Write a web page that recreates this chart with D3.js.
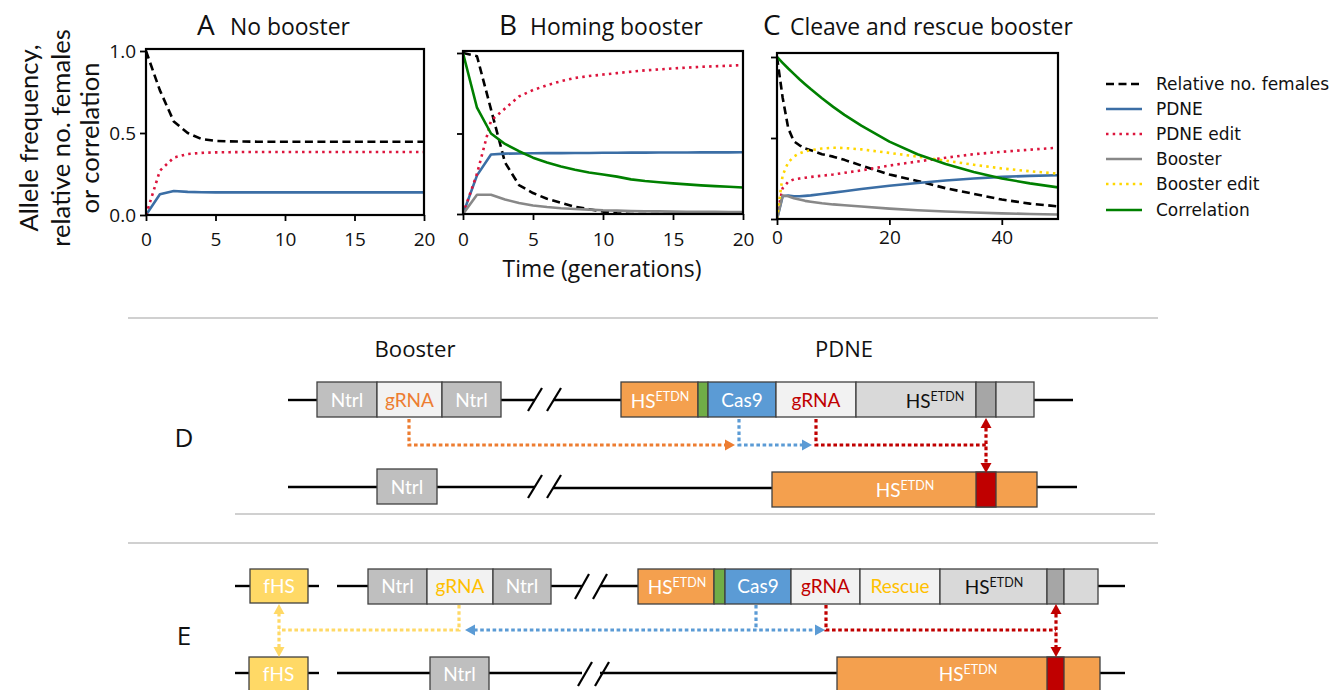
<!DOCTYPE html>
<html><head><meta charset="utf-8">
<script src="https://cdn.jsdelivr.net/npm/d3@7"></script>
<style>body{margin:0;background:#fff}svg{display:block}</style>
</head><body>
<svg id="fig" width="1335" height="690"></svg>
<script>
// ---------------- DATA ----------------
const gensAB = [0,1,2,3,4,5,6,7,8,9,10,11,12,13,14,15,16,17,18,19,20];
const gensC  = [0,1,2,3,4,5,6,8,10,12,15,20,25,30,35,40,45,50];

const A_females  = [1.0,0.76,0.57,0.50,0.463,0.452,0.449,0.448,0.447,0.447,0.447,0.447,0.447,0.447,0.447,0.447,0.447,0.447,0.447,0.447,0.447];
const A_pdne     = [0,0.126,0.146,0.141,0.139,0.138,0.138,0.138,0.138,0.138,0.138,0.138,0.138,0.138,0.138,0.138,0.138,0.138,0.138,0.138,0.138];
const A_pdneEdit = [0,0.27,0.35,0.372,0.379,0.382,0.383,0.384,0.384,0.384,0.384,0.384,0.384,0.384,0.384,0.384,0.384,0.384,0.384,0.384,0.384];

const B_females  = [1.0,0.98,0.65,0.32,0.18,0.13,0.095,0.07,0.045,0.03,0.015,0.005,0,0,0,0,0,0,0,0,0];
const B_pdne     = [0,0.24,0.37,0.375,0.376,0.377,0.378,0.378,0.379,0.379,0.38,0.38,0.381,0.381,0.382,0.382,0.382,0.383,0.383,0.383,0.384];
const B_pdneEdit = [0,0.25,0.58,0.655,0.73,0.77,0.80,0.825,0.845,0.857,0.866,0.875,0.884,0.892,0.898,0.904,0.909,0.914,0.918,0.921,0.925];
const B_booster  = [0,0.12,0.12,0.09,0.068,0.053,0.043,0.036,0.031,0.027,0.023,0.021,0.019,0.017,0.016,0.015,0.014,0.013,0.013,0.012,0.012];
const B_corr     = [1.0,0.66,0.50,0.435,0.39,0.35,0.32,0.295,0.275,0.258,0.245,0.232,0.215,0.205,0.197,0.19,0.184,0.178,0.173,0.169,0.165];

const C_females    = [1.0,0.75,0.56,0.48,0.455,0.435,0.425,0.40,0.385,0.365,0.33,0.275,0.235,0.19,0.155,0.12,0.095,0.078];
const C_pdne       = [0,0.14,0.145,0.14,0.14,0.143,0.146,0.154,0.163,0.171,0.185,0.205,0.222,0.238,0.25,0.26,0.266,0.27];
const C_pdneEdit   = [0.02,0.19,0.23,0.245,0.25,0.255,0.26,0.267,0.275,0.285,0.30,0.33,0.355,0.378,0.40,0.415,0.428,0.44];
const C_booster    = [0,0.145,0.14,0.128,0.12,0.112,0.107,0.097,0.09,0.085,0.077,0.064,0.054,0.046,0.04,0.035,0.031,0.028];
const C_boosterEdit= [0,0.27,0.35,0.385,0.405,0.418,0.425,0.435,0.44,0.438,0.43,0.408,0.385,0.36,0.335,0.312,0.295,0.28];
const C_corr       = [1.0,0.964,0.929,0.896,0.863,0.832,0.802,0.745,0.692,0.643,0.576,0.478,0.40,0.34,0.29,0.25,0.22,0.195];

const yTicks = [0, 0.5, 1.0];
const xTicksAB = [0,5,10,15,20];
const xTicksC = [0,20,40];
const seriesKeys  = ["females","pdne","pdneEdit","booster","boosterEdit","corr"];
const seriesNames = ["Relative no. females","PDNE","PDNE edit","Booster","Booster edit","Correlation"];

// ---------------- STYLE / LAYOUT ----------------
const FT = "'Open Sans', sans-serif";
const FL = "'DejaVu Sans', sans-serif";
const FD = "Lato, sans-serif";
const sty = {
  females:{c:"#000000", d:"8,4.5"},
  pdne:{c:"#3b6ea5", d:null},
  pdneEdit:{c:"#dc143c", d:"2.5,4.2"},
  booster:{c:"#888888", d:null},
  boosterEdit:{c:"#ffd700", d:"2.5,4.2"},
  corr:{c:"#008000", d:null}
};
const panels = [
  {L:"A", T:"No booster", tw:120, lx:197, tx:230, x0:146, x1:424, yb:215, yt:51, top:49, xmax:20, xt:xTicksAB, ylab:true, gens:gensAB, tlY:246,
   s:{females:A_females, pdne:A_pdne, pdneEdit:A_pdneEdit}},
  {L:"B", T:"Homing booster", tw:173, lx:499, tx:530, x0:463, x1:743, yb:214, yt:53, top:51, xmax:20, xt:xTicksAB, ylab:false, gens:gensAB, tlY:246,
   s:{females:B_females, pdne:B_pdne, pdneEdit:B_pdneEdit, booster:B_booster, corr:B_corr}},
  {L:"C", T:"Cleave and rescue booster", tw:283, lx:763, tx:790, x0:777, x1:1058, yb:219, yt:57, top:53, xmax:50, xt:xTicksC, ylab:false, gens:gensC, tlY:244,
   s:{females:C_females, pdne:C_pdne, pdneEdit:C_pdneEdit, booster:C_booster, boosterEdit:C_boosterEdit, corr:C_corr}}
];

function fit(sel, target){
  const len = sel.node().getComputedTextLength();
  const fs = +sel.attr("font-size");
  if(len>0) sel.attr("font-size", (fs*target/len).toFixed(2));
  return sel;
}

const svg = d3.select("#fig");

panels.forEach(p => {
  const g = svg.append("g");
  const x = d3.scaleLinear().domain([0,p.xmax]).range([p.x0,p.x1]);
  const y = d3.scaleLinear().domain([0,1]).range([p.yb,p.yt]);
  g.append("text").attr("x",p.lx).attr("y",35).attr("font-family",FT).attr("font-size",28).attr("fill","#111").text(p.L);
  fit(g.append("text").attr("x",p.tx).attr("y",35).attr("font-family",FT).attr("font-size",22).attr("fill","#111").text(p.T), p.tw);
  const clipId = "clip"+p.L;
  g.append("clipPath").attr("id",clipId).append("rect").attr("x",p.x0).attr("y",p.top).attr("width",p.x1-p.x0).attr("height",p.yb-p.top);
  const lg = g.append("g").attr("clip-path",`url(#${clipId})`);
  seriesKeys.forEach(k => {
    if(!p.s[k]) return;
    const line = d3.line().x((d,i)=>x(p.gens[i])).y(d=>y(d));
    lg.append("path").attr("d",line(p.s[k])).attr("fill","none").attr("stroke",sty[k].c)
      .attr("stroke-width",2.6).attr("stroke-dasharray",sty[k].d).attr("stroke-linejoin","round");
  });
  g.append("rect").attr("x",p.x0).attr("y",p.top).attr("width",p.x1-p.x0).attr("height",p.yb-p.top)
    .attr("fill","none").attr("stroke","#000").attr("stroke-width",2.2);
  const ax = d3.axisBottom(x).tickValues(p.xt).tickSize(6).tickPadding(7).tickFormat(d3.format("d"));
  const gx = g.append("g").attr("transform",`translate(0,${p.yb})`).call(ax);
  gx.select(".domain").remove();
  gx.selectAll("line").attr("stroke","#000").attr("stroke-width",1.8);
  gx.selectAll("text").attr("font-family",FT).attr("font-size",19).attr("fill","#111").attr("dy",null).attr("y",p.tlY-p.yb);
  const ay = d3.axisLeft(y).tickValues(yTicks).tickSize(6).tickPadding(4).tickFormat(p.ylab ? d3.format(".1f") : "");
  const gy = g.append("g").attr("transform",`translate(${p.x0},0)`).call(ay);
  gy.select(".domain").remove();
  gy.selectAll("line").attr("stroke","#000").attr("stroke-width",1.8);
  gy.selectAll("text").attr("font-family",FT).attr("font-size",19).attr("fill","#111").attr("dy","0.36em");
});

// y label: one common font size for all three lines
const ylines = ["Allele frequency,","relative no. females","or correlation"];
const ylx = [38, 70, 99];
const ylw = [205, 204, 147];
const ysel = ylines.map((t,i)=> svg.append("text").attr("transform",`translate(${ylx[i]},138) rotate(-90)`).attr("text-anchor","middle")
    .attr("font-family",FD).attr("font-size",22).attr("fill","#111").text(t));
const lens = ysel.map(s=>s.node().getComputedTextLength());
const yfs = 22 * d3.sum(ylw) / d3.sum(lens);
ysel.forEach(s=>s.attr("font-size", yfs.toFixed(2)));

fit(svg.append("text").attr("x",602).attr("y",277).attr("text-anchor","middle").attr("font-family",FT).attr("font-size",22).attr("fill","#111").text("Time (generations)"), 199);

// legend
const legY = [84,109,134,159,184,210];
seriesKeys.forEach((k,i)=>{
  svg.append("line").attr("x1",1106).attr("x2",1142).attr("y1",legY[i]).attr("y2",legY[i])
    .attr("stroke",sty[k].c).attr("stroke-width",2.6).attr("stroke-dasharray",sty[k].d);
  svg.append("text").attr("x",1156).attr("y",legY[i]).attr("dy","0.36em").attr("font-family",FL).attr("font-size",17)
    .attr("fill","#111").text(seriesNames[i]);
});

// ---------------- DIAGRAMS ----------------
const C = {orange:"#f4a04e", green:"#70ad47", blue:"#5b9bd5", pale:"#f2f2f2", ntrl:"#bfbfbf", lgray:"#d9d9d9", dgray:"#a6a6a6",
  red:"#c00000", yellow:"#ffd966", txtOr:"#ed7d31", txtYe:"#ffc000", aOr:"#ed7d31", aBl:"#5b9bd5", aRe:"#c00000", aYe:"#ffd966"};
const dg = svg.append("g");

function hline(x1,x2,y){ dg.append("line").attr("x1",x1).attr("x2",x2).attr("y1",y).attr("y2",y).attr("stroke","#000").attr("stroke-width",2.4); }
function slash(x1,y1,x2,y2){ dg.append("line").attr("x1",x1).attr("y1",y1).attr("x2",x2).attr("y2",y2).attr("stroke","#000").attr("stroke-width",2.2); }
function box(x0,x1,y0,y1,fill){ dg.append("rect").attr("x",x0).attr("y",y0).attr("width",x1-x0).attr("height",y1-y0).attr("fill",fill).attr("stroke","#404040").attr("stroke-width",1.3); }
function label(t,cx,by,col,sup){
  const tx = dg.append("text").attr("x",cx).attr("y",by).attr("text-anchor","middle").attr("font-family",FD).attr("font-size",19).attr("fill",col);
  tx.append("tspan").text(t);
  if(sup) tx.append("tspan").attr("dy",-7).attr("font-size",12.5).text(sup);
}
function dotted(pts,col){ dg.append("path").attr("d",d3.line()(pts)).attr("fill","none").attr("stroke",col).attr("stroke-width",3.2).attr("stroke-dasharray","3.6,2.6"); }
function head(x,y,dir,col){
  const s=5.5,l=10; let pts;
  if(dir==="r") pts=[[x,y],[x-l,y-s],[x-l,y+s]];
  if(dir==="l") pts=[[x,y],[x+l,y-s],[x+l,y+s]];
  if(dir==="u") pts=[[x,y],[x-s,y+l],[x+s,y+l]];
  if(dir==="d") pts=[[x,y],[x-s,y-l],[x+s,y-l]];
  dg.append("path").attr("d","M"+pts.join("L")+"Z").attr("fill",col);
}

[[128,1158,318],[235,1155,514],[128,1158,543]].forEach(s=>{
  dg.append("line").attr("x1",s[0]).attr("x2",s[1]).attr("y1",s[2]).attr("y2",s[2]).attr("stroke","#c0c0c0").attr("stroke-width",1.6);
});

fit(dg.append("text").attr("x",415).attr("y",357).attr("text-anchor","middle").attr("font-family",FT).attr("font-size",22).attr("fill","#111").text("Booster"), 81);
fit(dg.append("text").attr("x",844).attr("y",357).attr("text-anchor","middle").attr("font-family",FT).attr("font-size",22).attr("fill","#111").text("PDNE"), 58);
dg.append("text").attr("x",184).attr("y",447).attr("text-anchor","middle").attr("font-family",FT).attr("font-size",26).attr("fill","#111").text("D");
dg.append("text").attr("x",184).attr("y",645).attr("text-anchor","middle").attr("font-family",FT).attr("font-size",26).attr("fill","#111").text("E");

// ---- D top row
hline(288,317,400); hline(501,535,400); hline(553,621,400); hline(1034,1073,400);
slash(528,411,542,388); slash(547,411,561,388);
box(317,377,382,417,C.ntrl); label("Ntrl",347,407,"#fff");
box(377,442,382,417,C.pale); label("gRNA",409.5,407,C.txtOr);
box(442,501,382,417,C.ntrl); label("Ntrl",471.5,407,"#fff");
box(621,698,382,417,C.orange); label("HS",660,408,"#fff","ETDN");
box(698,708,382,417,C.green);
box(708,776,382,417,C.blue); label("Cas9",742,407,"#fff");
box(776,856,382,417,C.pale); label("gRNA",816,407,C.red);
box(856,976,382,417,C.lgray); label("HS",935,408,"#111","ETDN");
box(976,996,382,417,C.dgray);
box(996,1034,382,417,C.lgray);
// D bottom row
hline(288,377,487); hline(437,535,487); hline(553,772,488); hline(1037,1077,487);
slash(528,498,542,475); slash(547,498,561,475);
box(377,437,469,504,C.ntrl); label("Ntrl",407,494,"#fff");
box(772,1037,472,507,C.orange); label("HS",905,497,"#fff","ETDN");
box(976,996,472,507,C.red);
// D arrows
dotted([[409,419],[409,445],[726,445]],C.aOr); head(735,445,"r",C.aOr);
dotted([[739,419],[739,445],[803,445]],C.aBl); head(812,445,"r",C.aBl);
dotted([[816,419],[816,445],[986,445]],C.aRe);
dotted([[986,428],[986,463]],C.aRe); head(986,418,"u",C.aRe); head(986,473,"d",C.aRe);

// ---- E top row
hline(235,250,586); hline(308,319,586); hline(337,368,586); hline(551,582,586); hline(600,638,586); hline(1098,1125,586);
slash(575,599,589,574); slash(593,599,607,574);
box(250,308,569,603,C.yellow); label("fHS",279,593,"#fff");
box(368,427,569,604,C.ntrl); label("Ntrl",397.5,593,"#fff");
box(427,493,569,604,C.pale); label("gRNA",460,593,C.txtYe);
box(493,551,569,604,C.ntrl); label("Ntrl",522,593,"#fff");
box(638,714,569,604,C.orange); label("HS",677,594,"#fff","ETDN");
box(714,725,569,604,C.green);
box(725,791,569,604,C.blue); label("Cas9",758,593,"#fff");
box(791,860,569,604,C.pale); label("gRNA",825.5,593,C.red);
box(860,940,569,604,C.pale); label("Rescue",900,593,C.txtYe);
box(940,1047,569,604,C.lgray); label("HS",994,594,"#111","ETDN");
box(1047,1064,569,604,C.dgray);
box(1064,1098,569,604,C.lgray);
// E bottom row
hline(235,249,673); hline(308,319,673); hline(337,430,673); hline(489,582,673); hline(600,837,673); hline(1100,1125,673);
slash(578,686,592,662); slash(595,686,609,662);
box(249,308,657,693,C.yellow); label("fHS",278.5,681,"#fff");
box(430,489,657,693,C.ntrl); label("Ntrl",459.5,681,"#fff");
box(837,1100,657,693,C.orange); label("HS",968,681,"#fff","ETDN");
box(1047,1064,657,693,C.red);
// E arrows
dotted([[459,605],[459,630],[279,630]],C.aYe);
dotted([[279,613],[279,647]],C.aYe); head(279,604,"u",C.aYe); head(279,657,"d",C.aYe);
dotted([[756,605],[756,630]],C.aBl);
dotted([[474,630],[816,630]],C.aBl); head(465,630,"l",C.aBl); head(825,630,"r",C.aBl);
dotted([[826,605],[826,630],[1056,630]],C.aRe);
dotted([[1056,614],[1056,647]],C.aRe); head(1056,604,"u",C.aRe); head(1056,657,"d",C.aRe);
</script>
</body></html>
